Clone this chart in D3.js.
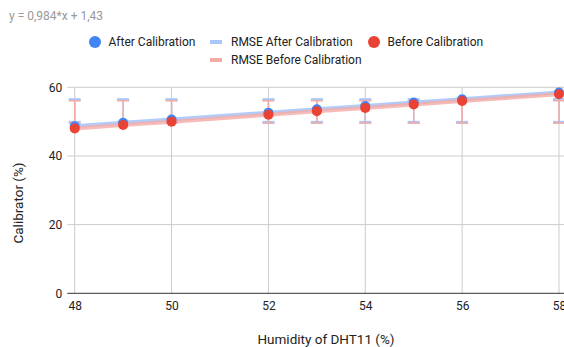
<!DOCTYPE html>
<html>
<head>
<meta charset="utf-8">
<script src="https://cdn.jsdelivr.net/npm/d3@7"></script>
<style>
    body { margin: 0; background: #fff; }
    text { font-family: Roboto, Arial, sans-serif; }
</style>
</head>
<body>
<div id="chart"></div>
<script>
// humidity read by DHT11 (x) and calibrator readings
const humidity = [48, 49, 50, 52, 53, 54, 55, 56, 58];
const afterCalibration = [48.66, 49.65, 50.63, 52.6, 53.58, 54.57, 55.55, 56.53, 58.5];
const beforeCalibration = [48, 49, 50, 52, 53, 54, 55, 56, 58];
// error bar ends (same for every point)
const afterErrLow = [49.8, 49.8, 49.8, 49.8, 49.8, 49.8, 49.8, 49.8, 49.8];
const afterErrHigh = [56.4, 56.4, 56.4, 56.4, 56.4, 56.4, 56.4, 56.4, 56.4];
const beforeErrLow = [49.6, 49.6, 49.6, 49.6, 49.6, 49.6, 49.6, 49.6, 49.6];
const beforeErrHigh = [56.1, 56.1, 56.1, 56.1, 56.1, 56.1, 56.1, 56.1, 56.1];
const xTicks = [48, 50, 52, 54, 56, 58];
const yTicks = [0, 20, 40, 60];

const width = 564;
const height = 347;

const colors = {
    after: "#4285f4",
    before: "#ea4335",
    afterLine: "#a8c7fa",
    beforeLine: "#f5aba5",
};

const svg = d3.select("#chart")
    .append("svg")
    .attr("width", width)
    .attr("height", height)
    .attr("viewBox", [0, 0, width, height]);

const xScale = d3.scaleLinear().domain([48, 58]).range([74.7, 559]);
const yScale = d3.scaleLinear().domain([0, 60]).range([293.3, 87.3]);
const gridLeft = 67.3;

// gridlines
svg.append("g")
    .selectAll("line")
    .data(yTicks.filter((d) => d !== 0))
    .join("line")
    .attr("x1", gridLeft)
    .attr("x2", width)
    .attr("y1", (d) => yScale(d))
    .attr("y2", (d) => yScale(d))
    .attr("stroke", "#cccccc");

svg.append("g")
    .selectAll("line")
    .data(xTicks)
    .join("line")
    .attr("x1", (d) => xScale(d))
    .attr("x2", (d) => xScale(d))
    .attr("y1", yScale(60))
    .attr("y2", yScale(0))
    .attr("stroke", "#cccccc");

// axes
const xAxis = svg.append("g")
    .attr("transform", `translate(0,${yScale(0)})`)
    .call(d3.axisBottom(xScale).tickValues(xTicks).tickSize(0).tickPadding(8));
xAxis.select(".domain").remove();
xAxis.selectAll("text").attr("font-size", 12).attr("fill", "#222").attr("font-family", "Roboto, Arial, sans-serif");

const yAxis = svg.append("g")
    .attr("transform", `translate(${gridLeft},0)`)
    .call(d3.axisLeft(yScale).tickValues(yTicks).tickSize(0).tickPadding(5));
yAxis.select(".domain").remove();
yAxis.selectAll("text").attr("font-size", 12).attr("fill", "#222").attr("font-family", "Roboto, Arial, sans-serif");

svg.append("line")
    .attr("x1", gridLeft)
    .attr("x2", width)
    .attr("y1", yScale(0))
    .attr("y2", yScale(0))
    .attr("stroke", "#333")
    .attr("stroke-width", 1);

// error bars
function errorBars(low, high, color, capWidth, capStroke, barStroke) {
    const g = svg.append("g");
    const pts = humidity.map((x, i) => ({x: x, lo: low[i], hi: high[i]}));
    g.selectAll("line.bar")
        .data(pts)
        .join("line")
        .attr("class", "bar")
        .attr("x1", (d) => xScale(d.x))
        .attr("x2", (d) => xScale(d.x))
        .attr("y1", (d) => yScale(d.lo))
        .attr("y2", (d) => yScale(d.hi))
        .attr("stroke", color)
        .attr("stroke-width", barStroke);
    ["lo", "hi"].forEach((k) => {
        g.selectAll(`line.cap-${k}`)
            .data(pts)
            .join("line")
            .attr("class", `cap-${k}`)
            .attr("x1", (d) => xScale(d.x) - capWidth / 2)
            .attr("x2", (d) => xScale(d.x) + capWidth / 2)
            .attr("y1", (d) => yScale(d[k]))
            .attr("y2", (d) => yScale(d[k]))
            .attr("stroke", color)
            .attr("stroke-width", capStroke);
    });
}

errorBars(afterErrLow, afterErrHigh, colors.afterLine, 12, 3, 1.5);
errorBars(beforeErrLow, beforeErrHigh, colors.beforeLine, 12, 1.5, 1.5);

// RMSE lines
const line = d3.line()
    .x((d) => xScale(d.x))
    .y((d) => yScale(d.y));

svg.append("path")
    .datum(humidity.map((x, i) => ({x: x, y: afterCalibration[i]})))
    .attr("d", line)
    .attr("fill", "none")
    .attr("stroke", colors.afterLine)
    .attr("stroke-opacity", 0.9)
    .attr("stroke-width", 4);

svg.append("path")
    .datum(humidity.map((x, i) => ({x: x, y: beforeCalibration[i]})))
    .attr("d", line)
    .attr("fill", "none")
    .attr("stroke", colors.beforeLine)
    .attr("stroke-opacity", 0.8)
    .attr("stroke-width", 4);

// points
svg.append("g")
    .selectAll("circle")
    .data(humidity.map((x, i) => ({x: x, y: afterCalibration[i]})))
    .join("circle")
    .attr("cx", (d) => xScale(d.x))
    .attr("cy", (d) => yScale(d.y))
    .attr("r", 5)
    .attr("fill", colors.after);

svg.append("g")
    .selectAll("circle")
    .data(humidity.map((x, i) => ({x: x, y: beforeCalibration[i]})))
    .join("circle")
    .attr("cx", (d) => xScale(d.x))
    .attr("cy", (d) => yScale(d.y))
    .attr("r", 5)
    .attr("fill", colors.before);

// title (trendline equation)
svg.append("text")
    .attr("x", 9)
    .attr("y", 20)
    .attr("font-size", 12)
    .attr("fill", "#999")
    .text("y = 0,984*x + 1,43");

// legend
const legend = svg.append("g").attr("font-size", 12).attr("fill", "#222");
const legendItems = [
    {label: "After Calibration", type: "dot", color: colors.after, x: 95, y: 42},
    {label: "RMSE After Calibration", type: "line", color: colors.afterLine, x: 216, y: 42},
    {label: "Before Calibration", type: "dot", color: colors.before, x: 374, y: 42},
    {label: "RMSE Before Calibration", type: "line", color: colors.beforeLine, x: 216, y: 60},
];
legendItems.forEach((d) => {
    if (d.type === "dot") {
        legend.append("circle")
            .attr("cx", d.x).attr("cy", d.y).attr("r", 6).attr("fill", d.color);
    } else {
        legend.append("line")
            .attr("x1", d.x - 6).attr("x2", d.x + 6)
            .attr("y1", d.y).attr("y2", d.y)
            .attr("stroke", d.color).attr("stroke-width", 4);
    }
    legend.append("text")
        .attr("x", d.x + (d.type === "dot" ? 13.5 : 15))
        .attr("y", d.y)
        .attr("dy", "0.35em")
        .text(d.label);
});

// axis titles
svg.append("text")
    .attr("x", 326)
    .attr("y", 339)
    .attr("dy", "0.35em")
    .attr("text-anchor", "middle")
    .attr("font-size", 13.5)
    .attr("fill", "#222")
    .text("Humidity of DHT11 (%)");

svg.append("text")
    .attr("transform", "translate(18,203) rotate(-90)")
    .attr("dy", "0.35em")
    .attr("text-anchor", "middle")
    .attr("font-size", 13.5)
    .attr("fill", "#222")
    .text("Calibrator (%)");
</script>
</body>
</html>
